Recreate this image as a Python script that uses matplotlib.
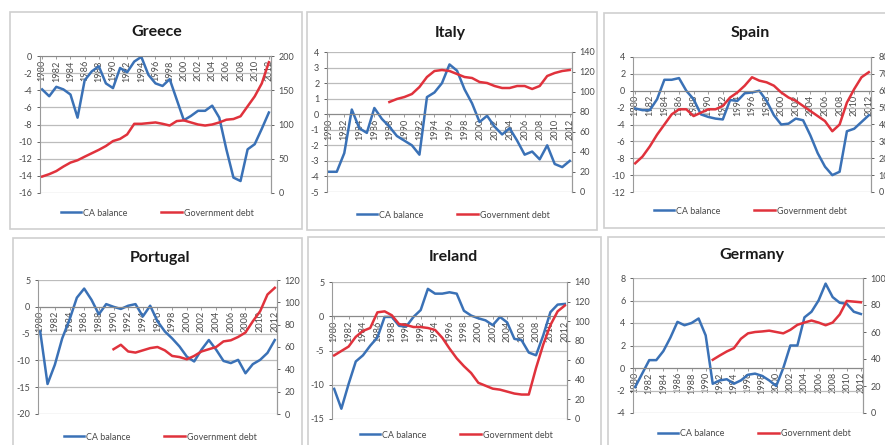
import matplotlib
matplotlib.use('Agg')
import matplotlib.pyplot as plt
import numpy as np
from matplotlib.patches import Rectangle

plt.rcParams['axes.unicode_minus'] = False
plt.rcParams['font.family'] = ['Lato', 'DejaVu Sans']

nan = np.nan
years = list(range(1980, 2013))
year_ticks = list(range(1980, 2013, 2))
year_labels = [str(y) for y in year_ticks]

greece_ca = [-3.9, -4.7, -3.6, -3.9, -4.5, -7.2, -2.85, -1.8, -1.2, -3.2, -3.75, -1.4, -1.9,
             -0.65, -0.1, -2.2, -3.2, -3.5, -2.7, -5.1, -7.5, -7.0, -6.4, -6.4, -5.8, -7.2,
             -10.9, -14.2, -14.6, -10.9, -10.3, -8.5, -6.6]
greece_debt = [24, 27.5, 32, 38.6, 44.4, 47.8, 53, 58, 63, 68.6, 75.8, 79, 85.5, 101, 101, 102,
               103, 101, 98.5, 105, 106, 103, 100, 98.5, 100, 103, 107, 108, 112, 126.6, 141,
               160, 191]

italy_ca = [-3.7, -3.7, -2.5, 0.3, -0.9, -1.2, 0.4, -0.3, -0.8, -1.4, -1.7, -2.0, -2.6, 1.1,
            1.4, 2.0, 3.2, 2.8, 1.6, 0.7, -0.5, -0.1, -0.8, -1.3, -0.9, -1.7, -2.6, -2.4,
            -2.9, -2.0, -3.2, -3.4, -3.0]
italy_debt = [nan, nan, nan, nan, nan, nan, nan, nan, 90, 93, 95, 98, 105, 115, 121, 122, 121,
              118, 115, 114, 110, 109, 106, 104, 104, 106, 106, 103, 106, 116, 119, 121, 122]

spain_ca = [-2.1, -2.3, -2.3, -1.0, 1.3, 1.3, 1.5, 0.0, -1.0, -2.8, -3.1, -3.3, -3.4, -1.1,
            -1.2, -0.3, -0.2, 0.0, -1.2, -2.9, -4.0, -3.9, -3.3, -3.5, -5.3, -7.4, -9.0,
            -10.0, -9.6, -4.8, -4.5, -3.7, -2.9]
spain_debt = [17, 21, 27, 34, 40, 46, 49, 49, 45, 47, 49, 49, 51, 56, 59, 63, 68, 66, 65, 63,
              59, 56, 54, 51, 48, 45, 42, 36, 40, 53, 61, 68, 71]

portugal_ca = [-4.6, -14.4, -10.8, -5.9, -2.4, 1.7, 3.4, 1.3, -1.4, 0.5, 0.0, -0.4, 0.2, 0.5,
               -1.8, 0.2, -2.7, -4.6, -5.9, -7.4, -9.3, -10.2, -8.0, -6.2, -8.0, -10.1, -10.5,
               -9.9, -12.4, -10.7, -9.9, -8.6, -6.2]
portugal_debt = [nan, nan, nan, nan, nan, nan, nan, nan, nan, nan, 58, 62, 56, 55, 57, 59, 60,
                 57, 52, 51, 49, 52, 56, 58, 60, 65, 66, 69, 73, 83, 92, 107, 113]

ireland_ca = [-10.6, -13.5, -9.9, -6.6, -5.7, -4.3, -3.1, -0.1, -0.1, -1.4, -1.5, -0.1, 0.9,
              4.0, 3.3, 3.3, 3.5, 3.3, 0.8, 0.1, -0.3, -0.6, -1.3, -0.1, -0.9, -3.3, -3.5,
              -5.3, -5.7, -2.8, 0.6, 1.7, 1.8]
ireland_debt = [65, 69.5, 74, 84, 90, 93, 109, 110, 106, 97, 96, 94, 94, 93, 91, 83, 72, 62,
                54, 47, 37, 34, 31, 30, 28, 26, 25, 25, 52, 76, 96, 110, 116]

germany_ca = [-1.7, -0.5, 0.7, 0.7, 1.5, 2.7, 4.1, 3.8, 4.0, 4.4, 2.9, -1.4, -1.1, -1.0, -1.4,
              -1.1, -0.6, -0.5, -0.7, -1.1, -1.6, 0.0, 2.0, 2.0, 4.5, 5.0, 6.0, 7.5, 6.3, 5.8,
              5.7, 5.0, 4.8]
germany_debt = [nan, nan, nan, nan, nan, nan, nan, nan, nan, nan, nan, 39.4, 42.6, 45.6, 48, 55,
                59, 60, 60.4, 61, 60, 59, 61.6, 65.3, 67, 68.5, 67, 65, 67, 73, 83, 82.5, 82]

titles = ['Greece', 'Italy', 'Spain', 'Portugal', 'Ireland', 'Germany']
ca_series = [greece_ca, italy_ca, spain_ca, portugal_ca, ireland_ca, germany_ca]
debt_series = [greece_debt, italy_debt, spain_debt, portugal_debt, ireland_debt, germany_debt]
ca_ranges = [(-16, 0, 2), (-5, 4, 1), (-12, 4, 2), (-20, 5, 5), (-15, 5, 5), (-4, 8, 2)]
debt_ranges = [(0, 200, 50), (0, 140, 20), (0, 80, 10), (0, 120, 20), (0, 140, 20), (0, 100, 20)]

# layout in pixels (figure 885 x 445)
W, H = 885, 445
plot_px = [(40, 56, 271, 193), (327, 52, 572, 192), (633, 57, 871, 192),
           (38, 280, 277, 414), (332, 282, 567, 419), (633, 278, 863, 413)]
box_px = [(10, 12, 302, 229), (307, 12, 597, 230), (604, 13, 892, 228),
          (13, 238, 302, 452), (308, 237, 601, 452), (608, 237, 892, 452)]
title_px = [(157, 32), (450, 33), (750, 33), (160, 258), (453, 257), (752, 255)]
legend_px = [(157, 213), (453, 215), (750, 211), (160, 437), (456, 435), (754, 434)]

BLUE = '#3a71b6'
RED = '#e0323c'
GRID = '#bcbcbc'
TXT = '#4a4a4a'

fig = plt.figure(figsize=(W / 100, H / 100), dpi=100)
fig.patch.set_facecolor('white')

for i in range(6):
    bx0, by0, bx1, by1 = box_px[i]
    fig.patches.append(Rectangle((bx0 / W, 1 - by1 / H), (bx1 - bx0) / W, (by1 - by0) / H,
                                 transform=fig.transFigure, facecolor='white',
                                 edgecolor='#cfcfcf', lw=1.2, zorder=-10))
    x0, y0, x1, y1 = plot_px[i]
    ax = fig.add_axes([x0 / W, 1 - y1 / H, (x1 - x0) / W, (y1 - y0) / H])
    ax.set_zorder(1)
    lo, hi, st = ca_ranges[i]
    dlo, dhi, dst = debt_ranges[i]
    l1, = ax.plot(years, ca_series[i], color=BLUE, lw=1.8, solid_joinstyle='round',
                  label='CA balance')
    ax.set_xlim(1979.7, 2012.3)
    ax.set_ylim(lo, hi)
    ax.set_yticks(np.arange(lo, hi + st / 2, st))
    ax.yaxis.grid(True, color=GRID, lw=0.9)
    ax.set_axisbelow(True)
    ax.spines['bottom'].set_position(('data', 0))
    ax.spines['bottom'].set_color('#8a8a8a')
    ax.spines['top'].set_visible(False)
    ax.spines['left'].set_color('#9a9a9a')
    ax.spines['right'].set_color('#9a9a9a')
    ax.tick_params(axis='y', labelsize=6.5, colors=TXT, length=2.5, width=0.6, pad=3)

    ax2 = ax.twinx()
    ax2.set_zorder(2)
    ax2.patch.set_visible(False)
    l2, = ax2.plot(years, debt_series[i], color=RED, lw=1.8, solid_joinstyle='round',
                   label='Government debt')
    ax2.set_ylim(dlo, dhi)
    ax2.set_yticks(np.arange(dlo, dhi + dst / 2, dst))
    ax2.tick_params(axis='y', labelsize=6.5, colors=TXT, length=2.5, width=0.6, pad=3)
    for s in ['top', 'bottom', 'left']:
        ax2.spines[s].set_visible(False)
    ax2.spines['right'].set_color('#9a9a9a')

    ax.set_xticks(year_ticks)
    ax.set_xticklabels(year_labels)
    ax.tick_params(axis='x', length=2, width=0.6, color='#8a8a8a', pad=1,
                   labelrotation=90, labelsize=6.6, labelcolor=TXT)

    tx, ty = title_px[i]
    fig.text(tx / W, 1 - ty / H, titles[i], ha='center', va='center', fontsize=11.5,
             fontweight='bold', color='#1a1a1a')
    lx, ly = legend_px[i]
    fig.legend([l1, l2], ['CA balance', 'Government debt'], loc='center',
               bbox_to_anchor=(lx / W, 1 - ly / H), bbox_transform=fig.transFigure,
               ncol=2, frameon=False, fontsize=6.5, handlelength=2.3, handletextpad=0.15,
               columnspacing=3.8, labelcolor=TXT, borderpad=0)

fig.savefig('out.png', dpi=100, facecolor='white')
